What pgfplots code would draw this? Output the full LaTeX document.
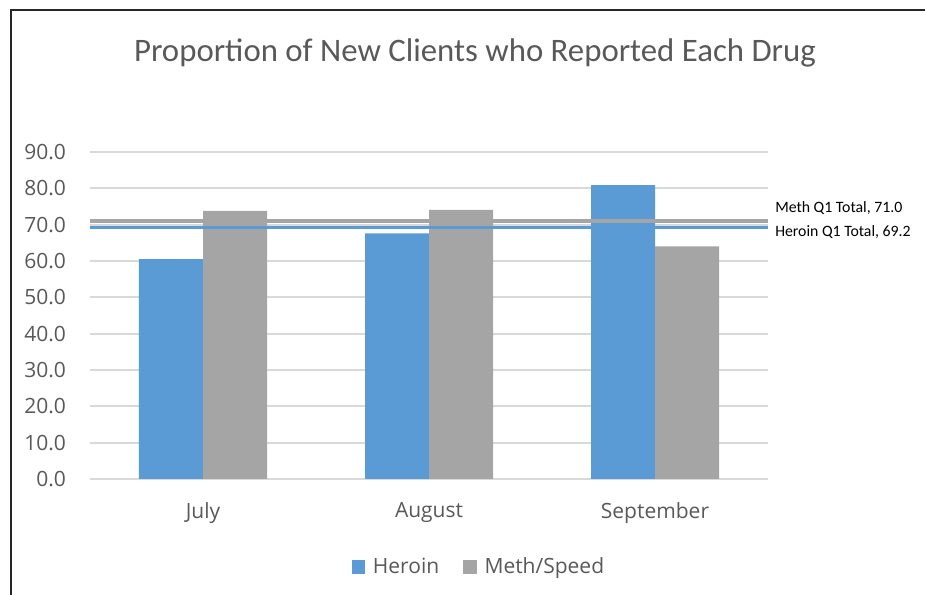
\documentclass[border=0pt]{standalone}
\usepackage{pgfplots}
\pgfplotsset{compat=1.18}
\usepackage{fontspec}
\setmainfont{Open Sans}
\newfontfamily\carlito{Carlito}

\definecolor{heroin}{HTML}{5B9BD5}
\definecolor{meth}{HTML}{A5A5A5}
\definecolor{txt}{HTML}{595959}
\definecolor{gridc}{HTML}{D9D9D9}

\begin{document}
\begin{tikzpicture}[x=0.75pt,y=0.75pt]
\path[use as bounding box] (0,0) rectangle (925,595);
\draw[line width=1.3pt,black!85] (11,0) -- (11,585) -- (925,585);

\begin{axis}[
    at={(67.5pt,87pt)}, anchor=south west,
    scale only axis,
    width=508.5pt, height=245.25pt,
    xmin=-0.5, xmax=2.5,
    ymin=0, ymax=90,
    ytick={0,10,...,90},
    xtick={0,1,2},
    xticklabels={July,August,September},
    ymajorgrids,
    grid style={gridc, line width=1.5pt},
    axis line style={draw=none},
    tick style={draw=none},
    ybar=0pt,
    bar width=48pt,
    tick label style={font=\fontsize{15.75}{18}\selectfont, text=txt},
    /pgf/number format/fixed,
    /pgf/number format/fixed zerofill,
    /pgf/number format/precision=1,
    /pgf/number format/assume math mode=true,
    yticklabel style={xshift=-14.5pt},
    xticklabel style={yshift=-9.5pt},
    legend style={at={(0.574,-0.269)}, anchor=center, draw=none,
        legend columns=2, font=\fontsize{15.75}{18}\selectfont\color{txt},
        /tikz/every odd column/.append style={column sep=4pt},
        /tikz/every even column/.append style={column sep=16pt}},
    legend image code/.code={\fill[#1] (0pt,-5pt) rectangle (10pt,5pt);},
]
\addplot[fill=heroin, draw=none] coordinates {(0,60.5) (1,67.6) (2,80.9)};
\addplot[fill=meth, draw=none] coordinates {(0,73.8) (1,74.1) (2,64.0)};
\addplot[sharp plot, meth, line width=2.6pt, forget plot] coordinates {(-0.5,71.0) (2.5,71.0)};
\addplot[sharp plot, heroin, line width=2.3pt, forget plot] coordinates {(-0.5,69.2) (2.5,69.2)};
\legend{Heroin, Meth/Speed}
\end{axis}

\node[anchor=center, text=txt, font=\carlito\fontsize{24.6}{29}\selectfont] at (475,542) {Proportion of New Clients who Reported Each Drug};
\node[anchor=west, inner sep=0pt, font=\carlito\fontsize{11.85}{14}\selectfont] at (775,387) {Meth Q1 Total, 71.0};
\node[anchor=west, inner sep=0pt, font=\carlito\fontsize{11.85}{14}\selectfont] at (775,363) {Heroin Q1 Total, 69.2};
\end{tikzpicture}
\end{document}
